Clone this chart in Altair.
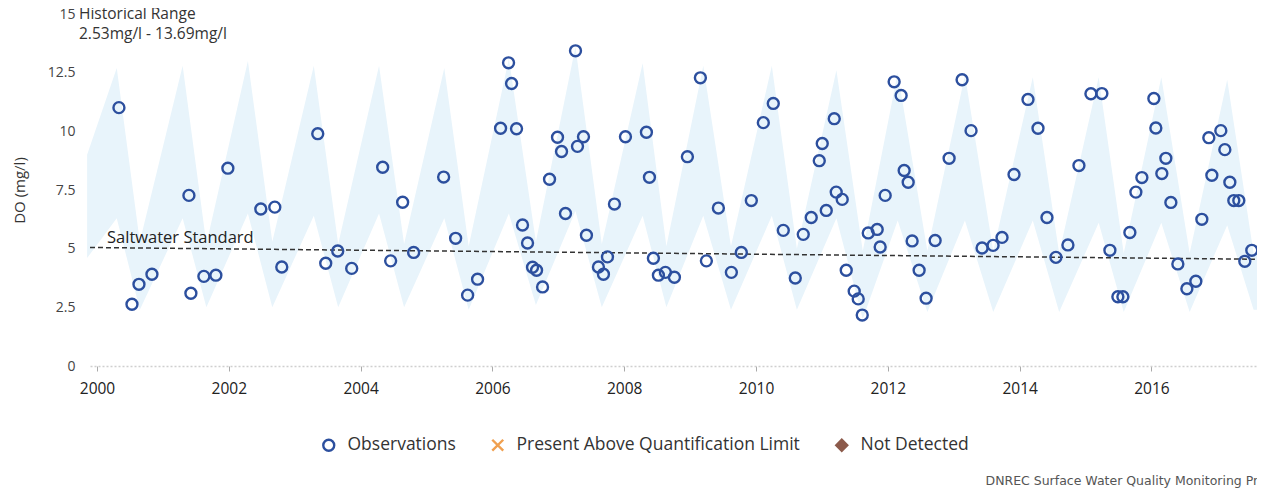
import altair as alt
import pandas as pd

# ---- data ----
obs_year = [2000.333, 2000.531, 2000.637, 2000.834, 2001.395, 2001.425, 2001.622, 2001.804, 2001.986,
            2002.486, 2002.698, 2002.804, 2003.350, 2003.471, 2003.653, 2003.865, 2004.335, 2004.456,
            2004.638, 2004.805, 2005.260, 2005.442, 2005.624, 2005.775, 2006.124, 2006.245, 2006.291,
            2006.366, 2006.457, 2006.533, 2006.609, 2006.670, 2006.761, 2006.867, 2006.988, 2007.049,
            2007.109, 2007.261, 2007.291, 2007.382, 2007.427, 2007.609, 2007.685, 2007.746, 2007.852,
            2008.019, 2008.337, 2008.383, 2008.443, 2008.519, 2008.625, 2008.762, 2008.959, 2009.156,
            2009.247, 2009.429, 2009.626, 2009.777, 2009.929, 2010.111, 2010.262, 2010.414, 2010.596,
            2010.717, 2010.838, 2010.960, 2011.005, 2011.066, 2011.187, 2011.217, 2011.308, 2011.369,
            2011.490, 2011.551, 2011.612, 2011.703, 2011.839, 2011.884, 2011.960, 2012.096, 2012.202,
            2012.248, 2012.309, 2012.369, 2012.475, 2012.581, 2012.718, 2012.930, 2013.127, 2013.263,
            2013.430, 2013.597, 2013.733, 2013.915, 2014.127, 2014.279, 2014.415, 2014.551, 2014.733,
            2014.900, 2015.082, 2015.248, 2015.370, 2015.491, 2015.567, 2015.673, 2015.764, 2015.855,
            2016.037, 2016.067, 2016.158, 2016.219, 2016.295, 2016.401, 2016.538, 2016.674, 2016.765,
            2016.871, 2016.917, 2017.053, 2017.114, 2017.190, 2017.250, 2017.326, 2017.417, 2017.523]
obs_do = [11.01, 2.63, 3.48, 3.91, 7.27, 3.10, 3.82, 3.87, 8.43,
          6.69, 6.77, 4.22, 9.90, 4.38, 4.90, 4.16, 8.47, 4.48,
          6.98, 4.84, 8.05, 5.44, 3.02, 3.70, 10.13, 12.92, 12.04,
          10.11, 6.01, 5.24, 4.21, 4.08, 3.37, 7.96, 9.75, 9.14,
          6.50, 13.43, 9.36, 9.77, 5.57, 4.22, 3.91, 4.65, 6.90,
          9.77, 9.96, 8.04, 4.59, 3.87, 3.99, 3.78, 8.92, 12.28,
          4.48, 6.73, 3.99, 4.84, 7.05, 10.37, 11.19, 5.78, 3.75,
          5.61, 6.33, 8.75, 9.48, 6.63, 10.54, 7.41, 7.10, 4.08,
          3.19, 2.86, 2.17, 5.67, 5.82, 5.07, 7.27, 12.11, 11.53,
          8.33, 7.83, 5.33, 4.08, 2.89, 5.35, 8.85, 12.20, 10.03,
          5.03, 5.14, 5.48, 8.16, 11.36, 10.13, 6.33, 4.63, 5.16,
          8.54, 11.60, 11.61, 4.93, 2.95, 2.95, 5.69, 7.41, 8.03,
          11.40, 10.14, 8.20, 8.85, 6.97, 4.35, 3.29, 3.61, 6.25,
          9.73, 8.13, 10.03, 9.22, 7.83, 7.05, 7.05, 4.46, 4.93]

band_year = [1999.85, 2000.30, 2000.65, 2001.30, 2001.66, 2002.29, 2002.66, 2003.29, 2003.66,
             2004.28, 2004.66, 2005.27, 2005.64, 2006.25, 2006.66, 2007.26, 2007.66, 2008.28,
             2008.64, 2009.20, 2009.62, 2010.24, 2010.62, 2011.22, 2011.62, 2012.15, 2012.60,
             2013.17, 2013.60, 2014.20, 2014.60, 2015.20, 2015.58, 2016.15, 2016.58, 2017.15,
             2017.55, 2017.65]
band_low = [4.6, 6.3, 2.4, 6.3, 2.5, 6.5, 2.5, 6.4, 2.5,
            6.5, 2.5, 6.3, 2.4, 6.5, 2.6, 6.6, 2.5, 6.4,
            2.5, 6.4, 2.4, 6.4, 2.4, 6.3, 2.0, 6.2, 2.3,
            6.2, 2.3, 6.2, 2.3, 6.1, 2.3, 6.1, 2.3, 6.0,
            2.4, 2.4]
band_high = [9.0, 12.7, 5.3, 12.8, 5.2, 13.0, 5.3, 12.8, 5.2,
             12.8, 5.2, 12.7, 5.1, 13.1, 5.3, 13.6, 5.2, 12.9,
             5.1, 12.8, 5.1, 12.8, 5.0, 12.6, 4.9, 12.5, 4.9,
             12.4, 4.9, 12.3, 4.8, 12.3, 4.8, 12.3, 4.8, 12.2,
             4.8, 4.7]

std_year = [1999.894, 2017.602]
std_do = [5.05, 4.55]
std_label = "Saltwater Standard"

legend_types = ["Observations", "Present Above Quantification Limit", "Not Detected"]
legend_strokes = ["#2c4f9e", "#f0a050", "#8c5a4b"]
legend_fills = ["transparent", "transparent", "#8c5a4b"]
legend_shapes = ["circle", "M-1,-1L1,1M-1,1L1,-1", "diamond"]

x_ticks = [2000, 2002, 2004, 2006, 2008, 2010, 2012, 2014, 2016]
y_ticks = [0, 2.5, 5, 7.5, 10, 12.5, 15]
x_domain = [1999.894, 2017.602]
y_domain = [0, 15]

title_lines = ["Historical Range", "2.53mg/l - 13.69mg/l"]
source_text = "DNREC Surface Water Quality Monitoring Program"

FONT = "Open Sans"

obs = pd.DataFrame({"year": obs_year, "do": obs_do, "type": ["Observations"] * len(obs_year)})
band = pd.DataFrame({"year": band_year, "low": band_low, "high": band_high})
std = pd.DataFrame({"year": std_year, "do": std_do})
std_lbl = pd.DataFrame({"year": [std_year[0]], "do": [std_do[0]], "label": [std_label]})

xscale = alt.Scale(domain=x_domain, nice=False, zero=False)
yscale = alt.Scale(domain=y_domain, nice=False, zero=False)

x_axis = alt.Axis(values=x_ticks, format="d", grid=False, domainColor="#cfcfcf", domainDash=[2, 2],
                  domainWidth=1.5, tickColor="#aaaaaa", tickSize=5, labelPadding=10,
                  labelFontSize=15.5, labelColor="#222222", labelFont=FONT,
                  title=source_text, titleFont="DejaVu Sans", titleFontSize=12.5,
                  titleFontWeight="normal", titleColor="#555555", titleX=895, titleY=118,
                  titleAlign="left", titleBaseline="alphabetic", labelFlush=False, titleLimit=1000)
y_axis = alt.Axis(values=y_ticks, format=".3~g", grid=False, domain=False, ticks=False,
                  labelPadding=15, labelFontSize=14, labelColor="#444444", labelFont=FONT,
                  title="DO (mg/l)", titleFont=FONT, titleFontSize=15, titleFontWeight="normal",
                  titleColor="#333333", titlePadding=20)

band_layer = alt.Chart(band).mark_area(color="#e8f4fb", opacity=1).encode(
    x=alt.X("year:Q", scale=xscale, axis=x_axis),
    y=alt.Y("low:Q", scale=yscale, axis=y_axis),
    y2="high:Q",
)

std_layer = alt.Chart(std).mark_line(color="#333333", strokeDash=[5, 3], strokeWidth=1.5).encode(
    x=alt.X("year:Q", scale=xscale),
    y=alt.Y("do:Q", scale=yscale),
)

std_text = alt.Chart(std_lbl).mark_text(align="left", baseline="alphabetic", dx=17, dy=-4,
                                        fontSize=16.5, font=FONT, color="#222222").encode(
    x=alt.X("year:Q", scale=xscale),
    y=alt.Y("do:Q", scale=yscale),
    text="label:N",
)

leg = alt.Legend(title=None, orient="none", legendX=230, legendY=422, direction="horizontal",
                 symbolSize=120, symbolStrokeWidth=2.4, labelFontSize=17.5, labelFont=FONT,
                 labelColor="#333333", labelOffset=10, columnPadding=31, padding=0,
                 symbolOpacity=1, labelLimit=500)

points = alt.Chart(obs).mark_point(size=120, strokeWidth=2.4, opacity=1, clip=True).encode(
    x=alt.X("year:Q", scale=xscale),
    y=alt.Y("do:Q", scale=yscale),
    shape=alt.Shape("type:N", scale=alt.Scale(domain=legend_types, range=legend_shapes), legend=leg),
    stroke=alt.Stroke("type:N", scale=alt.Scale(domain=legend_types, range=legend_strokes), legend=leg),
    fill=alt.Fill("type:N", scale=alt.Scale(domain=legend_types, range=legend_fills), legend=leg),
)

chart = alt.layer(band_layer, std_layer, std_text, points).properties(
    width=1167,
    height=352,
    padding={"left": 82, "top": 6, "right": 0, "bottom": 125},
    autosize=alt.AutoSizeParams(type="none"),
    title=alt.TitleParams(text=title_lines, anchor="start", frame="group", baseline="top",
                          dx=-11, dy=35, offset=0, fontSize=15.5, fontWeight="normal",
                          font=FONT, color="#333333", lineHeight=20),
).configure_view(stroke=None)

chart.save("out.html", embed_options={"renderer": "svg", "actions": False})
